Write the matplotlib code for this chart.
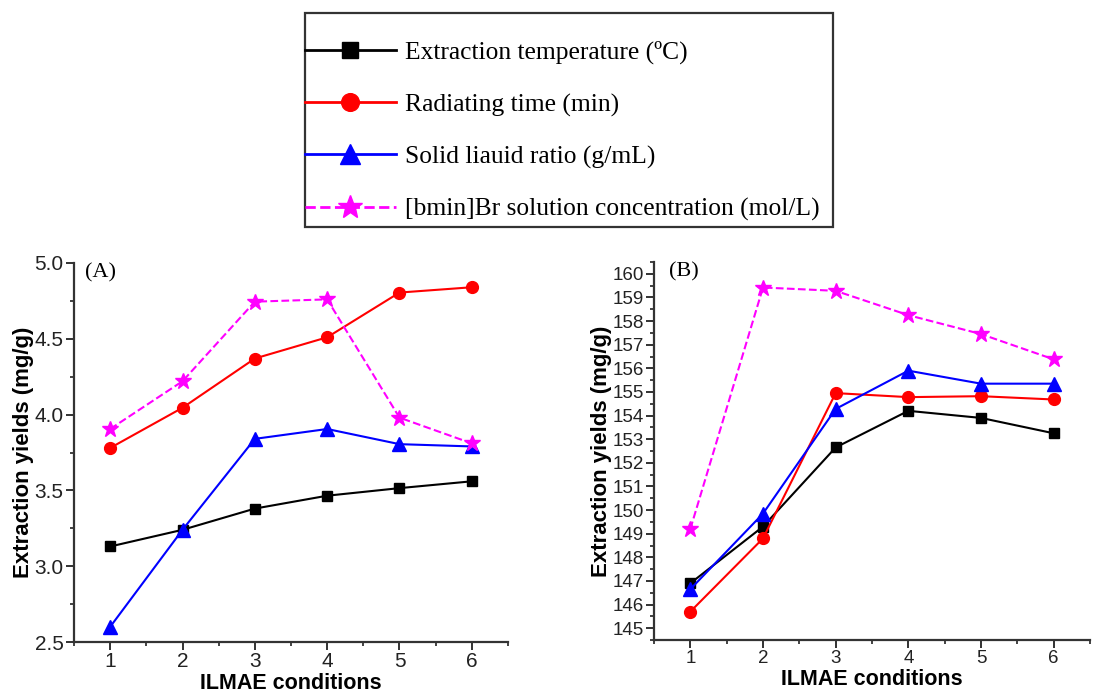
import matplotlib
matplotlib.use("Agg")
import matplotlib.pyplot as plt
from matplotlib.ticker import MultipleLocator
from matplotlib.patches import Rectangle

conditions = [1, 2, 3, 4, 5, 6]

labels = ["Extraction temperature (ºC)",
          "Radiating time (min)",
          "Solid liauid ratio (g/mL)",
          "[bmin]Br solution concentration (mol/L)"]

a_temp = [3.13, 3.24, 3.38, 3.465, 3.515, 3.56]
a_time = [3.78, 4.045, 4.37, 4.51, 4.805, 4.84]
a_ratio = [2.60, 3.24, 3.84, 3.905, 3.805, 3.79]
a_conc = [3.905, 4.22, 4.745, 4.76, 3.98, 3.81]

b_temp = [146.9, 149.3, 152.65, 154.2, 153.9, 153.25]
b_time = [145.7, 148.8, 154.95, 154.78, 154.82, 154.68]
b_ratio = [146.65, 149.85, 154.28, 155.9, 155.35, 155.35]
b_conc = [149.2, 159.42, 159.28, 158.25, 157.45, 156.38]

styles = [dict(color="black", marker="s", ms=7.5, ls="-"),
          dict(color="red", marker="o", ms=8.5, ls="-"),
          dict(color="blue", marker="^", ms=9.5, ls="-"),
          dict(color="magenta", marker="*", ms=12, ls="--")]

fig = plt.figure(figsize=(11.2, 6.95), dpi=100)
W, H = 1120, 695

axA = fig.add_axes([74 / W, 1 - 642 / H, (508 - 74) / W, (642 - 263) / H])
axB = fig.add_axes([654 / W, 1 - 640 / H, (1090 - 654) / W, (640 - 262) / H])

handles = []
for ax, series, lsize in ((axA, [a_temp, a_time, a_ratio, a_conc], 15),
                          (axB, [b_temp, b_time, b_ratio, b_conc], 13.5)):
    hs = []
    for s, st in zip(series, styles):
        h, = ax.plot(conditions, s, color=st["color"], marker=st["marker"],
                     markersize=st["ms"], linestyle=st["ls"], linewidth=1.5,
                     markeredgecolor=st["color"], markerfacecolor=st["color"])
        hs.append(h)
    handles = hs
    for sp in ("top", "right"):
        ax.spines[sp].set_visible(False)
    for sp in ("left", "bottom"):
        ax.spines[sp].set_linewidth(1.6)
        ax.spines[sp].set_color("#333333")
    ax.set_xlim(0.5, 6.5)
    ax.xaxis.set_major_locator(MultipleLocator(1))
    ax.xaxis.set_minor_locator(MultipleLocator(0.5))
    ax.tick_params(which="major", direction="out", length=6, width=1.3,
                   labelsize=lsize, colors="#222222", pad=1.5)
    ax.tick_params(which="minor", direction="out", length=3, width=1.2,
                   colors="#222222")
    ax.set_xlabel("ILMAE conditions", fontsize=15.5, fontweight="bold",
                  family="Liberation Sans", labelpad=1)
    ax.set_ylabel("Extraction yields (mg/g)", fontsize=16, fontweight="bold",
                  family="Liberation Sans", labelpad=0)

axA.set_ylim(2.5, 5.0)
axA.yaxis.set_major_locator(MultipleLocator(0.5))
axA.yaxis.set_minor_locator(MultipleLocator(0.25))
axA.text(0.025, 1.0, "(A)", transform=axA.transAxes, fontsize=16,
         family="Liberation Serif", va="top", ha="left")

axB.set_ylim(144.5, 160.5)
axB.yaxis.set_major_locator(MultipleLocator(1))
axB.yaxis.set_minor_locator(MultipleLocator(0.5))
axB.text(0.035, 1.0, "(B)", transform=axB.transAxes, fontsize=16,
         family="Liberation Serif", va="top", ha="left")

for ax in (axA, axB):
    for t in ax.get_xticklabels() + ax.get_yticklabels():
        t.set_fontfamily("Liberation Sans")

# legend frame drawn as a figure rectangle
fig.patches.append(Rectangle((305 / W, 1 - 227 / H), (833 - 305) / W,
                             (227 - 13) / H, transform=fig.transFigure,
                             fill=False, edgecolor="#333333", linewidth=1.6))

leg = fig.legend(handles, labels, loc="upper left",
                 bbox_to_anchor=(305 / W, 1 - 41 / H),
                 prop={"family": "Liberation Serif", "size": 18.4},
                 frameon=False, handlelength=3.55, markerscale=1.5,
                 handletextpad=0.35, labelspacing=1.13, borderpad=0,
                 borderaxespad=0)
for lh in leg.legend_handles:
    lh.set_linewidth(2)

fig.savefig("out.png", dpi=100)
